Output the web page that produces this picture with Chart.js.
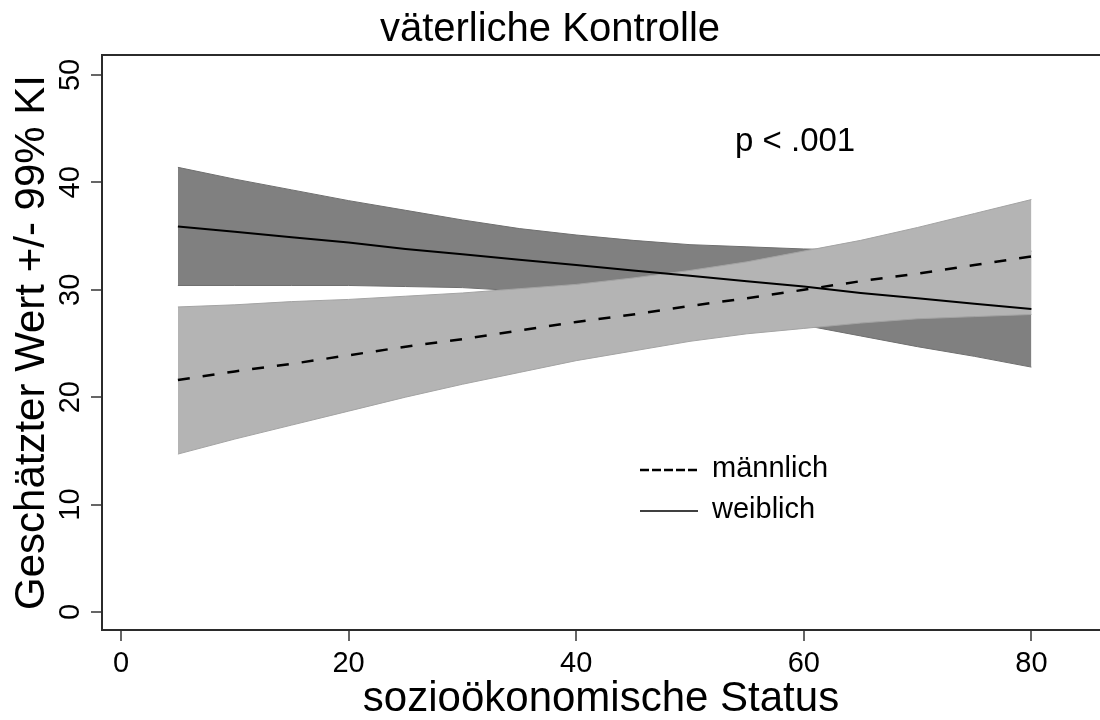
<!DOCTYPE html>
<html>
<head>
<meta charset="utf-8">
<script src="https://cdn.jsdelivr.net/npm/chart.js@4.4.1/dist/chart.umd.min.js"></script>
<style>
html,body{margin:0;padding:0;background:#fff;overflow:hidden;}
canvas{display:block;}
</style>
</head>
<body>
<canvas id="c" width="1100" height="720"></canvas>
<script>
// ---- text ----
const chartTitle = 'väterliche Kontrolle';
const xTitle = 'sozioökonomische Status';
const yTitle = 'Geschätzter Wert +/- 99% KI';
const seriesNames = ['männlich', 'weiblich'];
const annotationText = 'p < .001';

// ---- ticks / ranges ----
const xTicks = [0, 20, 40, 60, 80];
const yTicks = [0, 10, 20, 30, 40, 50];
const xRange = [-1.67, 86.03];
const yRange = [-1.68, 51.86];

// ---- data ----
const ses = [5, 10, 15, 20, 25, 30, 35, 40, 45, 50, 55, 60, 65, 70, 75, 80];

const maleFit   = [21.6, 22.4, 23.1, 23.9, 24.7, 25.4, 26.2, 27.0, 27.7, 28.5, 29.2, 30.0, 30.8, 31.5, 32.3, 33.1];
const maleUpper = [28.4, 28.6, 28.9, 29.1, 29.4, 29.7, 30.1, 30.5, 31.1, 31.8, 32.6, 33.6, 34.6, 35.8, 37.1, 38.4];
const maleLower = [14.7, 16.1, 17.4, 18.7, 20.0, 21.2, 22.3, 23.4, 24.3, 25.2, 25.9, 26.4, 26.9, 27.3, 27.5, 27.7];

const femaleFit   = [35.9, 35.4, 34.9, 34.4, 33.8, 33.3, 32.8, 32.3, 31.8, 31.3, 30.8, 30.3, 29.7, 29.2, 28.7, 28.2];
const femaleUpper = [41.4, 40.3, 39.3, 38.3, 37.4, 36.5, 35.7, 35.1, 34.6, 34.2, 34.0, 33.8, 33.7, 33.7, 33.6, 33.6];
const femaleLower = [30.4, 30.4, 30.4, 30.4, 30.3, 30.2, 29.9, 29.6, 29.0, 28.4, 27.6, 26.7, 25.7, 24.7, 23.8, 22.8];

const FONT = '"Liberation Sans", Arial, Helvetica, sans-serif';
const pts = arr => ses.map((x, i) => ({x: x, y: arr[i]}));

const DARK = '#808080', DARK_EDGE = '#6f6f6f';
const LIGHT = '#b4b4b4', LIGHT_EDGE = '#a3a3a3';

const framePlugin = {
  id: 'frame',
  afterDraw(chart) {
    const {ctx, chartArea: a} = chart;
    ctx.save();
    ctx.strokeStyle = '#2b2b2b';
    ctx.lineWidth = 2;
    ctx.beginPath();
    ctx.moveTo(chart.width + 5, a.top);
    ctx.lineTo(a.left, a.top);
    ctx.lineTo(a.left, a.bottom);
    ctx.lineTo(chart.width + 5, a.bottom);
    ctx.stroke();
    ctx.restore();
  }
};

const yLabelPlugin = {
  id: 'yLabels',
  afterDraw(chart) {
    const {ctx} = chart;
    const ys = chart.scales.y;
    ctx.save();
    ctx.fillStyle = '#000';
    ctx.font = '29px ' + FONT;
    ctx.textAlign = 'center';
    ctx.textBaseline = 'alphabetic';
    yTicks.forEach(v => {
      const py = ys.getPixelForValue(v);
      ctx.save();
      ctx.translate(79, py);
      ctx.rotate(-Math.PI / 2);
      ctx.fillText(String(v), 0, 0);
      ctx.restore();
    });
    ctx.restore();
  }
};

const legendPlugin = {
  id: 'customLegend',
  afterDraw(chart) {
    const {ctx} = chart;
    ctx.save();
    ctx.fillStyle = '#000';
    ctx.strokeStyle = '#000';
    ctx.lineCap = 'butt';
    // männlich (dashed)
    ctx.lineWidth = 2.5;
    ctx.setLineDash([9, 3]);
    ctx.beginPath();
    ctx.moveTo(640, 470);
    ctx.lineTo(698, 470);
    ctx.stroke();
    // weiblich (solid)
    ctx.setLineDash([]);
    ctx.lineWidth = 1.6;
    ctx.beginPath();
    ctx.moveTo(640, 511);
    ctx.lineTo(698, 511);
    ctx.stroke();
    ctx.font = '29px ' + FONT;
    ctx.textAlign = 'left';
    ctx.textBaseline = 'middle';
    ctx.fillText(seriesNames[0], 712, 469);
    ctx.fillText(seriesNames[1], 712, 510);
    // annotation
    ctx.font = '33px ' + FONT;
    ctx.fillText(annotationText, 735, 142);
    ctx.restore();
  }
};

new Chart(document.getElementById('c'), {
  type: 'line',
  data: {
    datasets: [
      { label: 'f_up', data: pts(femaleUpper), borderColor: DARK_EDGE, borderWidth: 1, pointRadius: 0, fill: false, order: 3 },
      { label: 'f_lo', data: pts(femaleLower), borderColor: DARK_EDGE, borderWidth: 1, pointRadius: 0, fill: '-1', backgroundColor: DARK, order: 3 },
      { label: 'm_up', data: pts(maleUpper), borderColor: LIGHT_EDGE, borderWidth: 1, pointRadius: 0, fill: false, order: 2 },
      { label: 'm_lo', data: pts(maleLower), borderColor: LIGHT_EDGE, borderWidth: 1, pointRadius: 0, fill: '-1', backgroundColor: LIGHT, order: 2 },
      { label: seriesNames[1], data: pts(femaleFit), borderColor: '#000', borderWidth: 2, pointRadius: 0, fill: false, order: 0 },
      { label: seriesNames[0], data: pts(maleFit), borderColor: '#000', borderWidth: 2.5, borderDash: [12, 13], pointRadius: 0, fill: false, order: 0 }
    ]
  },
  options: {
    responsive: false,
    animation: false,
    devicePixelRatio: 1,
    layout: { padding: 0 },
    elements: { line: { tension: 0 } },
    plugins: {
      legend: { display: false },
      tooltip: { enabled: false },
      title: {
        display: true,
        text: chartTitle,
        color: '#000',
        font: { family: FONT, size: 40, weight: 'normal', lineHeight: 1 },
        padding: { top: 10, bottom: 5 }
      }
    },
    scales: {
      x: {
        type: 'linear',
        min: xRange[0],
        max: xRange[1],
        afterBuildTicks: s => { s.ticks = xTicks.map(v => ({value: v})); },
        afterFit: s => { s.height = 90; },
        ticks: { color: '#000', font: { family: FONT, size: 29 }, padding: 6, maxRotation: 0, autoSkip: false },
        grid: { drawOnChartArea: false, drawTicks: true, tickLength: 11, color: '#666', lineWidth: 2 },
        border: { display: false },
        title: { display: true, text: xTitle, color: '#000', font: { family: FONT, size: 42, lineHeight: 1 }, padding: { top: 0, bottom: 0 } }
      },
      y: {
        type: 'linear',
        min: yRange[0],
        max: yRange[1],
        afterBuildTicks: s => { s.ticks = yTicks.map(v => ({value: v})); },
        afterFit: s => { s.width = 102; },
        ticks: { display: false },
        grid: { drawOnChartArea: false, drawTicks: true, tickLength: 11, color: '#666', lineWidth: 2 },
        border: { display: false },
        title: { display: true, text: yTitle, color: '#000', font: { family: FONT, size: 42, lineHeight: 1 }, padding: { top: 11, bottom: 0 } }
      }
    }
  },
  plugins: [framePlugin, yLabelPlugin, legendPlugin]
});
</script>
</body>
</html>
